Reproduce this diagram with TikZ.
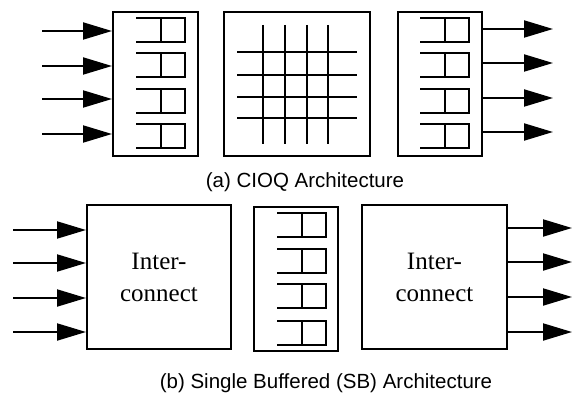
\documentclass[tikz,border=0pt]{standalone}
\usepackage{fontspec}
\setmainfont{Liberation Serif}
\setsansfont{Liberation Sans}
\usetikzlibrary{arrows.meta}

\begin{document}
\begin{tikzpicture}[x=1pt, y=-1pt,
					box/.style={rectangle, draw=black, line width=2pt, inner sep=0pt, minimum height=144pt},
					icbox/.style={box, minimum width=144pt, align=center, font=\fontsize{25}{32}\selectfont},
					caption/.style={anchor=base, font=\sffamily\fontsize{20.5}{24}\selectfont},
					wire/.style={line width=2pt, -{Triangle[length=29pt, width=17pt]}},
					fifo/.pic={
						\draw[line width=2pt] (-25,-12) -- (24,-12) -- (24,12) -- (-25,12);
						\draw[line width=2pt] (0,-12) -- (0,12);
					}
				]
				\useasboundingbox (0,0) rectangle (573,393);
				% (a) CIOQ
				\node[box, minimum width=85pt] (inqueue) at (155.5,84) {};
				\node[box, minimum width=146pt] (crossbar) at (297,84) {};
				\node[box, minimum width=84pt] (outqueue) at (440,84) {};
				\foreach \y in {30,65,101,136} {
					\pic at (161,\y) {fifo};
					\pic at (445,\y) {fifo};
				}
				\foreach \x in {263,285,307,328}
					\draw[line width=2pt] (\x,25) -- (\x,144);
				\foreach \y in {52,75,97,118}
					\draw[line width=2pt] (237,\y) -- (357,\y);
				\foreach \y [count=\i] in {31,66,99,134} {
					\coordinate (ain\i) at (42,\y);
					\draw[wire] (ain\i) -- (ain\i -| inqueue.west);
				}
				\foreach \y [count=\i] in {29,63,98,132} {
					\coordinate (aout\i) at (553,\y);
					\draw[wire] (aout\i -| outqueue.east) -- (aout\i);
				}
				\node[caption] (capa) at (305,187) {(a) CIOQ Architecture};
				% (b) SB
				\node[icbox, yshift=2pt] (inconnect) at (159,279) {Inter-\\connect};
				\node[box, minimum width=84pt] (sbuffer) at (296,279) {};
				\node[icbox, minimum width=145pt, yshift=2pt] (outconnect) at (434.5,279) {Inter-\\connect};
				\foreach \y in {224.5,260.5,296,333}
					\pic at (302,\y) {fifo};
				\foreach \y [count=\i] in {230,263,298,332} {
					\coordinate (bin\i) at (13,\y);
					\draw[wire] (bin\i) -- (bin\i -| inconnect.west);
				}
				\foreach \y [count=\i] in {228,262,297,332} {
					\coordinate (bout\i) at (572,\y);
					\draw[wire] (bout\i -| outconnect.east) -- (bout\i);
				}
				\node[caption] (capb) at (326,388) {(b) Single Buffered (SB) Architecture};
				\end{tikzpicture}
\end{document}
